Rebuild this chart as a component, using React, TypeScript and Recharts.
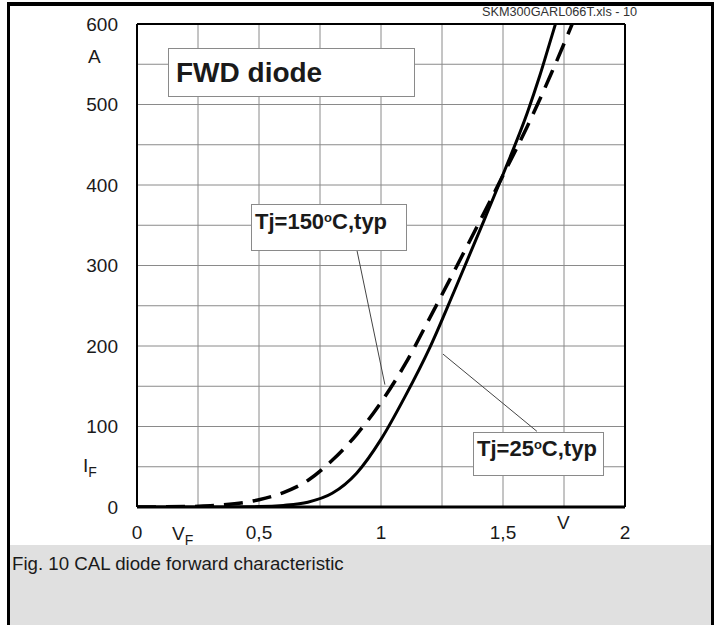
import { LineChart, Line, XAxis, YAxis, CartesianGrid, ReferenceLine } from 'recharts';

// forward voltage V_F (V) and current I_F (A)
const vf25 = [0, 0.3, 0.5, 0.6, 0.7, 0.8, 0.9, 1.0, 1.1, 1.2, 1.3, 1.4, 1.5, 1.6, 1.65, 1.7, 1.75];
const if25 = [0, 0, 0.5, 2, 6, 17, 42, 84, 138, 198, 268, 340, 413, 490, 535, 585, 635];

const vf150 = [0, 0.2, 0.3, 0.4, 0.5, 0.6, 0.7, 0.8, 0.9, 1.0, 1.1, 1.2, 1.3, 1.4, 1.5, 1.6, 1.7, 1.8];
const if150 = [0, 0.5, 1.5, 4, 9, 18, 33, 58, 90, 130, 178, 235, 293, 352, 412, 473, 540, 612];

const xTicks = [0, 0.25, 0.5, 0.75, 1, 1.25, 1.5, 1.75, 2];
const yTicks = [0, 50, 100, 150, 200, 250, 300, 350, 400, 450, 500, 550, 600];

// leader lines from the labels to the curves (V, A)
const leader150 = [{ x: 0.902, y: 318 }, { x: 1.016, y: 152 }];
const leader25 = [{ x: 1.639, y: 94 }, { x: 1.254, y: 190 }];

const data25 = vf25.map((v, i) => ({ v, i: if25[i] }));
const data150 = vf150.map((v, i) => ({ v, i: if150[i] }));

const font = 'Arial, "Liberation Sans", sans-serif';

const fmtX = (v: number) => (v * 2 === Math.round(v * 2) ? String(v).replace('.', ',') : '');
const fmtY = (v: number) => (v % 100 === 0 ? String(v) : '');

function Txt({ x, y, size, bold, children }: any) {
  return (
    <div
      style={{
        position: 'absolute',
        left: x,
        top: y,
        fontSize: size,
        fontWeight: bold ? 'bold' : 'normal',
        fontFamily: font,
        lineHeight: 1,
        color: '#1a1a1a',
        whiteSpace: 'nowrap',
      }}
    >
      {children}
    </div>
  );
}

function Box({ x, y, w, h }: any) {
  return (
    <div
      style={{
        position: 'absolute',
        left: x,
        top: y,
        width: w,
        height: h,
        background: '#fff',
        border: '1px solid #8a8a8a',
        boxSizing: 'border-box',
      }}
    />
  );
}

export default function App() {
  return (
    <div style={{ position: 'absolute', left: 0, top: 0, width: 720, height: 625, background: '#fff', overflow: 'hidden' }}>
      <LineChart
        width={720}
        height={545}
        margin={{ top: 24, right: 95, left: 77, bottom: 8 }}
        style={{ position: 'absolute', left: 0, top: 0 }}
      >
        <CartesianGrid stroke="#8a8a8a" strokeWidth={1} />
        <XAxis
          type="number"
          dataKey="v"
          domain={[0, 2]}
          ticks={xTicks}
          tickFormatter={fmtX}
          tickLine={false}
          tickSize={0}
          tickMargin={19}
          height={30}
          axisLine={{ stroke: '#000', strokeWidth: 3 }}
          tick={{ fontSize: 19, fill: '#1a1a1a', fontFamily: font }}
          interval={0}
        />
        <YAxis
          type="number"
          dataKey="i"
          domain={[0, 600]}
          ticks={yTicks}
          tickFormatter={fmtY}
          allowDataOverflow
          tickLine={false}
          tickSize={0}
          tickMargin={19}
          width={60}
          axisLine={{ stroke: '#000', strokeWidth: 2 }}
          tick={{ fontSize: 19, fill: '#1a1a1a', fontFamily: font }}
          interval={0}
        />
        <ReferenceLine y={600} stroke="#000" strokeWidth={2} />
        <ReferenceLine x={2} stroke="#000" strokeWidth={2} />
        <ReferenceLine segment={leader150} stroke="#444" strokeWidth={1} />
        <ReferenceLine segment={leader25} stroke="#444" strokeWidth={1} />
        <Line
          data={data150}
          dataKey="i"
          type="monotone"
          stroke="#000"
          strokeWidth={3.5}
          strokeDasharray="19 10"
          dot={false}
          isAnimationActive={false}
        />
        <Line
          data={data25}
          dataKey="i"
          type="monotone"
          stroke="#000"
          strokeWidth={3}
          dot={false}
          isAnimationActive={false}
        />
      </LineChart>

      {/* annotation boxes */}
      <Box x={168} y={48} w={247} h={49} />
      <Txt x={176} y={59} size={28} bold>FWD diode</Txt>
      <Box x={251} y={204} w={156} h={47} />
      <Txt x={255} y={211} size={22} bold>
        Tj=150<sup style={{ fontSize: 13, verticalAlign: 'top' }}>o</sup>C,typ
      </Txt>
      <Box x={473} y={432} w={131} h={44} />
      <Txt x={477} y={438} size={22} bold>
        Tj=25<sup style={{ fontSize: 13, verticalAlign: 'top' }}>o</sup>C,typ
      </Txt>

      {/* axis units */}
      <Txt x={88} y={47} size={19}>A</Txt>
      <Txt x={83} y={456} size={19}>
        I<sub style={{ fontSize: 14 }}>F</sub>
      </Txt>
      <Txt x={172} y={524} size={19}>
        V<sub style={{ fontSize: 14 }}>F</sub>
      </Txt>
      <Txt x={557} y={513} size={19}>V</Txt>

      <div
        style={{ position: 'absolute', left: 482, top: 6, fontSize: 12.7, fontFamily: font, color: '#333', lineHeight: 1, whiteSpace: 'nowrap' }}
      >
        SKM300GARL066T.xls - 10
      </div>

      {/* caption + frame */}
      <div style={{ position: 'absolute', left: 10, top: 545, width: 701, height: 80, background: '#e0e0e0' }} />
      <Txt x={12} y={555} size={18.7}>Fig. 10 CAL diode forward characteristic</Txt>
      <div style={{ position: 'absolute', left: 7, top: 2, width: 707, height: 4, background: '#000' }} />
      <div style={{ position: 'absolute', left: 7, top: 2, width: 3, height: 623, background: '#000' }} />
      <div style={{ position: 'absolute', left: 711, top: 2, width: 3, height: 623, background: '#000' }} />
    </div>
  );
}
